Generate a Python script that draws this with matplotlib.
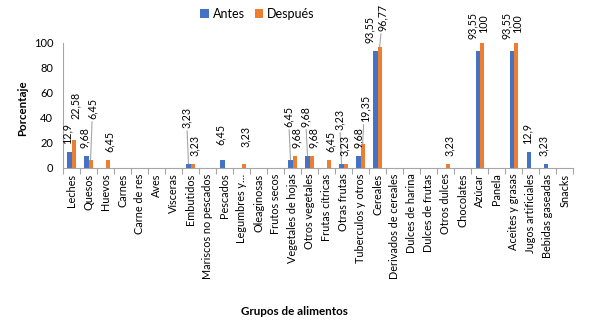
import matplotlib
matplotlib.use("Agg")
import matplotlib.pyplot as plt
import numpy as np

plt.rcParams['font.family'] = ['Lato', 'DejaVu Sans']

grupos = ["Leches", "Quesos", "Huevos", "Carnes", "Carne de res", "Aves", "Vísceras",
          "Embutidos", "Mariscos no pescados", "Pescados", "Legumbres y…", "Oleaginosas",
          "Frutos secos", "Vegetales de hojas", "Otros vegetales", "Frutas cítricas",
          "Otras frutas", "Tuberculos y otros", "Cereales", "Derivados de cereales",
          "Dulces de harina", "Dulces de frutas", "Otros dulces", "Chocolates", "Azúcar",
          "Panela", "Aceites y grasas", "Jugos artificiales", "Bebidas gaseadas", "Snacks"]

antes = [12.9, 9.68, 0, 0, 0, 0, 0, 3.23, 0, 6.45, 0, 0, 0, 6.45, 9.68, 0, 3.23, 9.68,
         93.55, 0, 0, 0, 0, 0, 93.55, 0, 93.55, 12.9, 3.23, 0]
despues = [22.58, 6.45, 6.45, 0, 0, 0, 0, 3.23, 0, 0, 3.23, 0, 0, 9.68, 9.68, 6.45, 3.23,
           19.35, 96.77, 0, 0, 0, 3.23, 0, 100, 0, 100, 0, 0, 0]

# label placement (px): lift above bar top and sideways shift, Excel-like
lift_antes = {7: 36, 9: 15, 13: 33, 14: 29, 16: 34, 24: 12, 26: 12}
lift_despues = {0: 21, 1: 41, 10: 17, 17: 22, 18: 16, 24: 10, 26: 10}
shift_antes = {17: 0, 18: -6, 24: -5, 26: -5}
shift_despues = {16: -1, 18: 3, 24: 2, 26: 2}
leader_antes = [7, 13, 14, 16]
leader_despues = [1, 17, 18]

c_antes = "#4472C4"
c_desp = "#ED7D31"

fig = plt.figure(figsize=(5.89, 3.23), dpi=100)
ax = fig.add_axes([0.107, 0.48, 0.866, 0.387])

x = np.arange(len(grupos))
w = 0.24
ax.bar(x - w / 2, antes, w, color=c_antes, label="Antes")
ax.bar(x + w / 2, despues, w, color=c_desp, label="Después")

px = 0.72  # points per pixel


def fmt(v):
    s = ("%.2f" % v).rstrip("0").rstrip(".")
    return s.replace(".", ",")


def put_labels(vals, xs, lifts, shifts, leaders, dx):
    for i, v in enumerate(vals):
        if v == 0:
            continue
        lift = lifts.get(i, 8)
        arrow = None
        if i in leaders:
            arrow = dict(arrowstyle="-", color="#A6A6A6", lw=0.8, shrinkA=0, shrinkB=0)
        ax.annotate(fmt(v), xy=(xs[i], v), xytext=(shifts.get(i, dx) * px, lift * px),
                    textcoords="offset points", rotation=90, ha="center", va="bottom",
                    fontsize=7.7, color="#000000", annotation_clip=False,
                    arrowprops=arrow)


put_labels(antes, x - w / 2, lift_antes, shift_antes, leader_antes, -2)
put_labels(despues, x + w / 2, lift_despues, shift_despues, leader_despues, 2)

ax.set_xlim(-0.5, len(grupos) - 0.5)
ax.set_ylim(0, 100)
ax.set_yticks(range(0, 101, 20))
ax.tick_params(axis="y", length=0, labelsize=8, pad=7)
ax.set_xticks(x)
ax.set_xticklabels(grupos, rotation=90, fontsize=7.8)
ax.tick_params(axis="x", length=0, pad=4)
ax.set_xticks(np.arange(-0.5, len(grupos), 1), minor=True)
ax.tick_params(axis="x", which="minor", length=4, color="#A6A6A6", width=0.8)

for s in ["top", "right"]:
    ax.spines[s].set_visible(False)
ax.spines["left"].set_color("#A6A6A6")
ax.spines["bottom"].set_color("#A6A6A6")

fig.text(0.039, 0.665, "Porcentaje", rotation=90, ha="center", va="center",
         fontsize=8.3, fontweight="bold")
fig.text(0.5, 0.037, "Grupos de alimentos", ha="center", va="center",
         fontsize=8.4, fontweight="bold")

fig.legend(loc="center", bbox_to_anchor=(0.437, 0.958), ncol=2, frameon=False,
           fontsize=9, handlelength=0.7, handleheight=0.7, handletextpad=0.3,
           columnspacing=0.8)

fig.savefig("out.png", dpi=100)
